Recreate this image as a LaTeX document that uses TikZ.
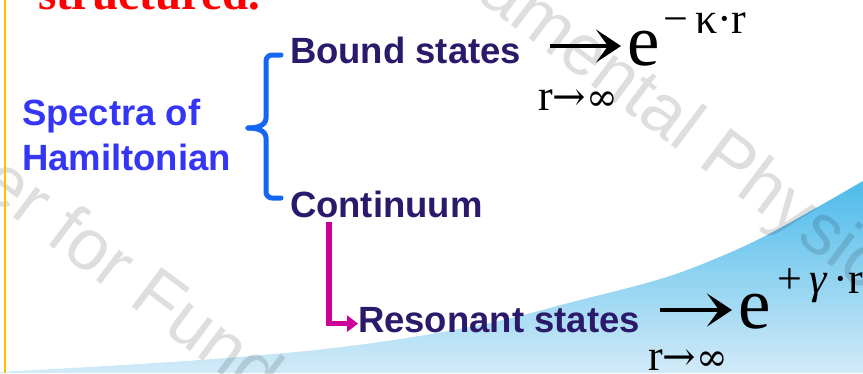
\documentclass[tikz,border=0pt]{standalone}
\usepackage{fontspec}
\setmainfont{Liberation Serif}
\newfontfamily\arialf{Liberation Sans}
\newfontfamily\djv{DejaVu Serif}
\usetikzlibrary{arrows.meta}
\definecolor{specblue}{HTML}{3535F5}
\definecolor{darkpurple}{HTML}{2B1A6B}
\definecolor{braceblue}{HTML}{1466F5}
\definecolor{magarrowc}{HTML}{CC0099}
\definecolor{skytop}{HTML}{4DBBEA}
\definecolor{skybot}{HTML}{D2EBF8}
\definecolor{edgeorange}{HTML}{FFC000}
\newcommand{\myLimArrow}{{\djv\fontsize{40}{44}\selectfont →}}
\newcommand{\myLimInf}{{\djv\fontsize{38}{44}\selectfont ∞}}
\tikzset{
  lab/.style={font=\arialf\bfseries\fontsize{36.5}{44}\selectfont, anchor=base west, text=darkpurple},
  speclab/.style={lab, text=specblue},
  bigm/.style={font=\fontsize{73}{80}\selectfont, anchor=base west},
  expm/.style={font=\fontsize{44}{50}\selectfont, anchor=base west},
  wmark/.style={font=\arialf\fontsize{72}{80}\selectfont, anchor=base west, rotate=-37, text=black, text opacity=0.13},
  bracestyle/.style={draw=braceblue, line width=5pt, line cap=round, line join=round},
  magarrow/.style={draw=magarrowc, line width=5.5pt, -{Triangle[length=11pt,width=16pt]}},
  limarrowstyle/.style={draw=black, line width=3.4pt, -{Stealth[length=25pt,width=33pt,inset=12pt]}}
}
\begin{document}
\begin{tikzpicture}[x=1pt,y=-1pt, every node/.style={inner sep=0pt, outer sep=0pt}]
\useasboundingbox (0,0) rectangle (863,373);
\begin{scope}
\clip (0,0) rectangle (863,373);
\shade[top color=skytop, bottom color=skybot]
  plot[smooth, tension=0.6] coordinates {(0,372) (200,360) (350,346) (480,325) (580,300) (650,282) (700,265) (767,235) (863,181)}
  -- (863,373) -- (0,373) -- cycle;
\node[wmark] (wm1) at (-144,99) {Center for Fundamental Physics};
\node[wmark] (wm2) at (73,-305) {Center for Fundamental Physics};
\end{scope}
\draw[edgeorange, line width=2.5pt] (4.8,0) -- (4.8,373);

\node[anchor=base west, font=\bfseries\fontsize{47}{50}\selectfont, text=red] (title) at (38,9) {structured.};

\node[speclab] (spec1) at (22,125) {Spectra of};
\node[speclab] (spec2) at (22,170) {Hamiltonian};

\node[lab] (bound) at (290,63) {Bound states};
\node[lab] (cont) at (290,217) {Continuum};
\node[lab] (res) at (358,332) {Resonant states};

\coordinate (bTop) at (281,55);
\coordinate (bBot) at (281,198);
\coordinate (bTip) at (248,128);
\draw[bracestyle] (bTop) -- (272,55) to[out=180,in=90] (266,61) -- (266,118) to[out=270,in=0] (bTip);
\draw[bracestyle] (bBot) -- (272,198) to[out=180,in=270] (266,192) -- (266,138) to[out=90,in=0] (bTip);

\coordinate (mTop) at (329,222);
\draw[magarrow] (mTop) |- ([yshift=-4pt]res.west);

% bound-state asymptotics
\coordinate (aB1) at (550,46);
\coordinate (aB2) at (621,46);
\draw[limarrowstyle] (aB1) -- (aB2);
\node[bigm] (eB) at (627,65) {e};
\node[expm] (xB) at (663,33) {−\,κ·r};
\node[expm] (limB) at (538,110) {r\myLimArrow\myLimInf};

% resonant-state asymptotics
\coordinate (aR1) at (660,310);
\coordinate (aR2) at (732,310);
\draw[limarrowstyle] (aR1) -- (aR2);
\node[bigm] (eR) at (738,328) {e};
\node[expm] (xR) at (777,293) {+\,{\itshape γ}\,·r};
\node[expm] (limR) at (648,370) {r\myLimArrow\myLimInf};
\end{tikzpicture}
\end{document}
